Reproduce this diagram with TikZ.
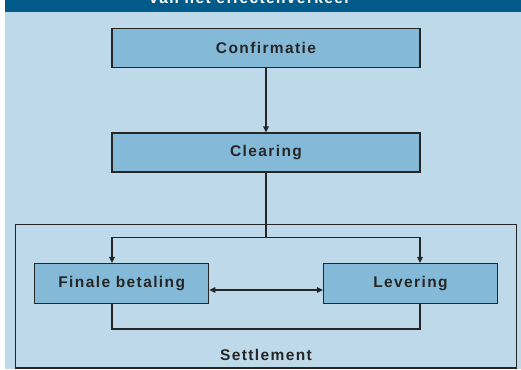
\documentclass[tikz,border=0pt]{standalone}
\usepackage{fontspec}
\setmainfont{Liberation Sans}[LetterSpace=9]
\usetikzlibrary{arrows.meta,positioning}
\definecolor{bandblue}{HTML}{005B8A}
\definecolor{paleblue}{HTML}{BDD9EA}
\definecolor{boxblue}{HTML}{84BAD8}
\definecolor{inkgrey}{HTML}{262626}
\begin{document}
\begin{tikzpicture}[x=1pt,y=-1pt,every node/.style={font=\fontsize{15.5}{17}\bfseries,text=inkgrey},
  stagebox/.style={draw=inkgrey,line width=1.2pt,fill=boxblue,inner sep=0pt},
  link/.style={draw=inkgrey,line width=1.2pt},
  tip/.style={-{Triangle[length=6pt,width=5.5pt]}}]
\useasboundingbox (0,0) rectangle (521,369);
\fill[paleblue] (5,12) rectangle (521,369);
\fill[bandblue] (5,0) rectangle (521,12);
\node[anchor=base,text=white] (title) at (250,3.5) {van het effectenverkeer};
\node[stagebox,minimum width=308pt,minimum height=39pt] (conf) at (266,48.3) {Confirmatie};
\node[stagebox,minimum width=308pt,minimum height=39pt] (clr) at (266,152.5) {Clearing};
\draw[link] (15.3,224.3) rectangle (516.7,368);
\node (settle) at (266,355) {Settlement};
\node[stagebox,minimum width=174pt,minimum height=40pt] (fin) at (121.7,283.5) {Finale betaling};
\node[stagebox,minimum width=174pt,minimum height=40pt] (lev) at (410.5,283.5) {Levering};
\coordinate (split) at (266,237.7);
\coordinate (jl) at (112,237.7);
\coordinate (jr) at (420,237.7);
\coordinate (bl) at (112,329);
\coordinate (br) at (420,329);
\draw[link,tip] (conf) -- (clr);
\draw[link] (clr.south) -- (split);
\draw[link,tip] (split) -- (jl) -- (jl |- fin.north);
\draw[link,tip] (split) -- (jr) -- (jr |- lev.north);
\draw[link] (bl |- fin.south) -- (bl) -- (br) -- (br |- lev.south);
\draw[link,{Triangle[length=6pt,width=5.5pt]}-{Triangle[length=6pt,width=5.5pt]}] ([yshift=-6.5pt]fin.east) -- ([yshift=-6.5pt]lev.west);
\end{tikzpicture}
\end{document}
